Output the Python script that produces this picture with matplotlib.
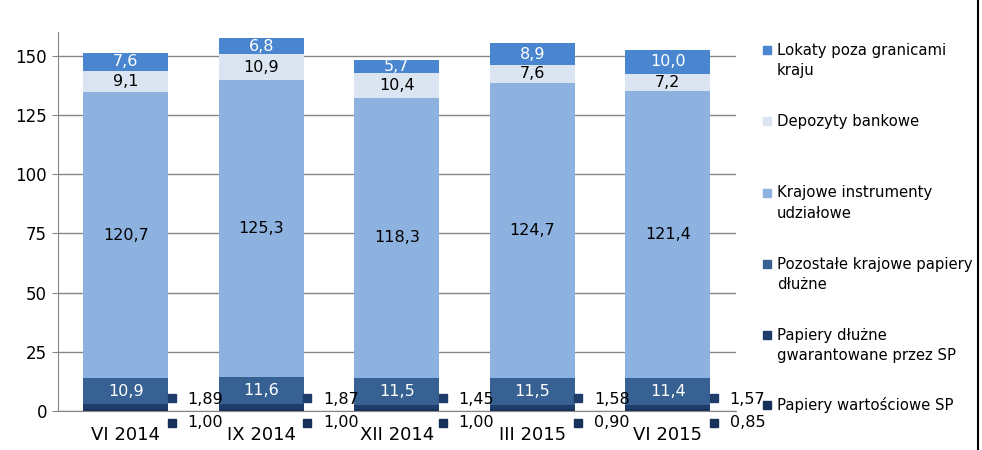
import numpy as np
import matplotlib.pyplot as plt
from matplotlib.lines import Line2D
from matplotlib.patches import Rectangle

categories = ['VI 2014', 'IX 2014', 'XII 2014', 'III 2015', 'VI 2015']
papiery_sp = [1.00, 1.00, 1.00, 0.90, 0.85]
papiery_gwar = [1.89, 1.87, 1.45, 1.58, 1.57]
pozostale = [10.9, 11.6, 11.5, 11.5, 11.4]
krajowe_udz = [120.7, 125.3, 118.3, 124.7, 121.4]
depozyty = [9.1, 10.9, 10.4, 7.6, 7.2]
lokaty = [7.6, 6.8, 5.7, 8.9, 10.0]

names = ['Papiery wartościowe SP', 'Papiery dłużne\ngwarantowane przez SP',
         'Pozostałe krajowe papiery\ndłużne', 'Krajowe instrumenty\nudziałowe',
         'Depozyty bankowe', 'Lokaty poza granicami\nkraju']
colors = ['#17325a', '#1f3d6b', '#376193', '#8eb2e0', '#dbe5f1', '#4a86d0']
label_colors = [None, None, 'white', 'black', 'black', 'white']

series = [papiery_sp, papiery_gwar, pozostale, krajowe_udz, depozyty, lokaty]

fig = plt.figure(figsize=(9.82, 4.5), dpi=100)
ax = fig.add_axes([0.0591, 0.0867, 0.690, 0.842])

x = np.arange(len(categories))
bottom = np.zeros(len(categories))
for vals, c, lc in zip(series, colors, label_colors):
    vals = np.array(vals)
    ax.bar(x, vals, 0.627, bottom=bottom, color=c, zorder=2)
    if lc is not None:
        for xi, b, v in zip(x, bottom, vals):
            ax.text(xi, b + v / 2, f'{v:.1f}'.replace('.', ','), ha='center', va='center',
                    color=lc, fontsize=11.5, zorder=3)
    bottom += vals

# labels for the thin bottom segments, shown beside the bars
for xi, v1, v2 in zip(x, papiery_sp, papiery_gwar):
    ax.plot(xi + 0.34, 5.3, 's', color=colors[1], ms=6, clip_on=False, zorder=3)
    ax.text(xi + 0.455, 5.0, f'{v2:.2f}'.replace('.', ','), ha='left', va='center',
            fontsize=11.5, clip_on=False)
    ax.plot(xi + 0.34, -5.2, 's', color=colors[0], ms=6, clip_on=False, zorder=3)
    ax.text(xi + 0.455, -5.0, f'{v1:.2f}'.replace('.', ','), ha='left', va='center',
            fontsize=11.5, clip_on=False)

ax.set_xlim(-0.5, 4.5)
ax.set_ylim(0, 160)
ax.set_yticks(np.arange(0, 151, 25))
ax.set_xticks(x)
ax.set_xticklabels(categories, fontsize=13)
ax.tick_params(axis='y', labelsize=12, length=4.5, color='#868686', pad=3.5)
ax.tick_params(axis='x', length=0, pad=11)
ax.grid(axis='y', color='#868686', linewidth=1, zorder=0)
for s in ['top', 'right']:
    ax.spines[s].set_visible(False)
ax.spines['left'].set_color('#868686')
ax.spines['bottom'].set_color('#868686')

# legend, top series first: (text centre, marker centre)
leg_pos = [(0.8656, 0.8889), (0.7311, 0.7311), (0.5489, 0.5711),
           (0.390, 0.4133), (0.2322, 0.2556), (0.100, 0.100)]
for (ty, my), name, c in zip(leg_pos, names[::-1], colors[::-1]):
    fig.patches.append(Rectangle((0.7765, my - 0.009), 0.0085, 0.0185,
                                 transform=fig.transFigure, color=c))
    fig.text(0.791, ty, name, ha='left', va='center', fontsize=10.7, linespacing=1.45)

fig.lines.append(Line2D([0.996, 0.996], [0, 1], transform=fig.transFigure, color='black', lw=1.5))

fig.savefig('out.png', dpi=100)
